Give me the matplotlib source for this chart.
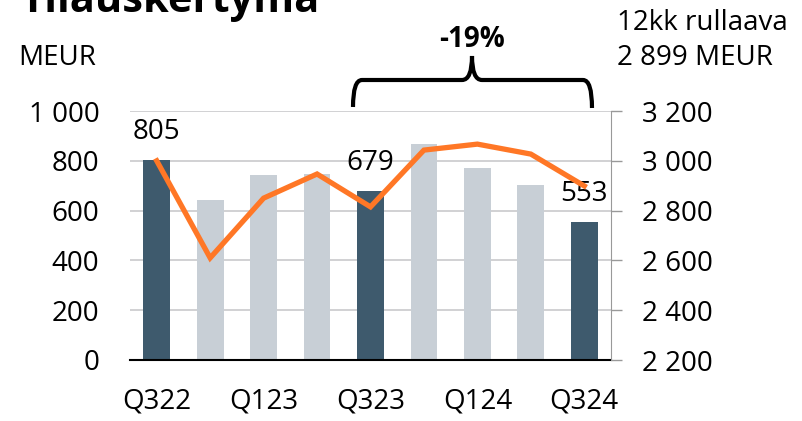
import matplotlib.pyplot as plt
from matplotlib.path import Path
from matplotlib.patches import PathPatch
import numpy as np

plt.rcParams['font.family'] = ['Open Sans', 'DejaVu Sans']

quarters = ['Q322', 'Q422', 'Q123', 'Q223', 'Q323', 'Q423', 'Q124', 'Q224', 'Q324']
orders = [805, 642, 743, 747, 679, 867, 771, 703, 553]
rolling = [3000, 2610, 2850, 2947, 2815, 3043, 3067, 3027, 2899]
highlight = [True, False, False, False, True, False, False, False, True]
labeled = {0: '805', 4: '679', 8: '553'}
tick_labels = ['Q322', '', 'Q123', '', 'Q323', '', 'Q124', '', 'Q324']

W, H = 803, 421
fig = plt.figure(figsize=(W / 100, H / 100), dpi=100)
ax = fig.add_axes([130 / W, 1 - 360 / H, (611 - 130) / W, (360 - 111) / H])

x = np.arange(len(quarters))
colors = ['#3e5a6d' if h else '#c8cfd6' for h in highlight]
ax.bar(x, orders, width=0.5, color=colors, zorder=2)
ax.set_xlim(-0.5, len(quarters) - 0.5)
ax.set_ylim(0, 1000)
ax.set_yticks(range(0, 1001, 200))
ax.set_yticklabels([f'{v:,}'.replace(',', ' ') for v in range(0, 1001, 200)], fontsize=20)
ax.yaxis.grid(True, color='#c9c9cc', lw=1.2, zorder=0)
ax.set_xticks(x)
ax.set_xticklabels(tick_labels, fontsize=20)
ax.tick_params(axis='x', length=0, pad=20)
ax.tick_params(axis='y', length=0, pad=22)
for s in ['left', 'top', 'right']:
    ax.spines[s].set_visible(False)
ax.spines['bottom'].set_color('black')
ax.spines['bottom'].set_linewidth(1.5)

# value labels above highlighted bars
for i, t in labeled.items():
    ax.annotate(t, (x[i], orders[i]), xytext=(0, 15), textcoords='offset points',
                ha='center', va='baseline', fontsize=20)

ax2 = ax.twinx()
ax2.plot(x, rolling, color='#ff7726', lw=3.8, zorder=3, solid_joinstyle='miter')
ax2.set_ylim(2200, 3200)
ax2.set_yticks(range(2200, 3201, 200))
ax2.set_yticklabels([f'{v:,}'.replace(',', ' ') for v in range(2200, 3201, 200)], fontsize=20)
ax2.tick_params(axis='y', length=8, width=1, color='#999999', pad=14)
for s in ['left', 'top', 'bottom']:
    ax2.spines[s].set_visible(False)
ax2.spines['right'].set_color('#999999')


# brace, in figure pixels
def fx(px):
    return px / W


def fy(py):
    return 1 - py / H


pts = [(353, 107), (353, 80), (362, 80), (462, 80), (472, 80), (472, 56),
       (472, 80), (482, 80), (583, 80), (592, 80), (592, 108)]
codes = [Path.MOVETO, Path.CURVE3, Path.CURVE3, Path.LINETO, Path.CURVE3, Path.CURVE3,
         Path.CURVE3, Path.CURVE3, Path.LINETO, Path.CURVE3, Path.CURVE3]
path = Path([(fx(a), fy(b)) for a, b in pts], codes)
fig.patches.append(PathPatch(path, transform=fig.transFigure, fill=False, lw=3, ec='black'))

fig.text(20 / W, fy(12), 'Tilauskertymä', fontsize=30, fontweight='bold', va='baseline')
fig.text(18 / W, fy(65), 'MEUR', fontsize=20, va='baseline')
fig.text(472 / W, fy(47), '-19%', fontsize=20, fontweight='bold', va='baseline', ha='center')
fig.text(617 / W, fy(30), '12kk rullaava', fontsize=20, va='baseline')
fig.text(617 / W, fy(65), '2 899 MEUR', fontsize=20, va='baseline')

fig.savefig('out.png', dpi=100)
